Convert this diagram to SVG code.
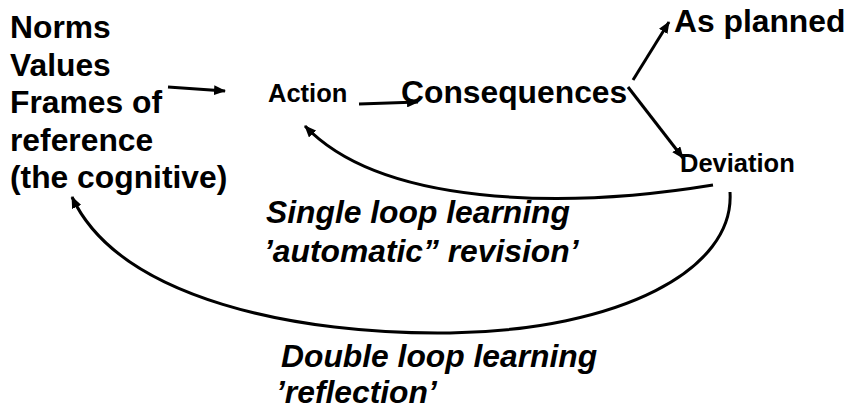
<svg xmlns="http://www.w3.org/2000/svg" width="845" height="410" viewBox="0 0 845 410">
<style>
.t{font-family:"Liberation Sans",Arial,sans-serif;font-weight:bold;fill:#000}
.big{font-size:31.8px}
.small{font-size:25.5px}
.it{font-style:italic}
.c{fill:none;stroke:#000;stroke-width:3}
</style>
<defs>
<marker id="ah" markerUnits="userSpaceOnUse" markerWidth="12" markerHeight="10" refX="11" refY="5" orient="auto">
<path d="M0,0 L12,5 L0,10 z" fill="#000"/>
</marker>
</defs>
<rect width="845" height="410" fill="#fff"/>
<g id="norms">
<text class="t big" x="10" y="38">Norms</text>
<text class="t big" x="10" y="75.5">Values</text>
<text class="t big" x="10" y="113">Frames of</text>
<text class="t big" x="10" y="150.5">reference</text>
<text class="t big" x="10" y="188">(the cognitive)</text>
</g>
<g id="action"><text class="t small" x="268" y="102">Action</text></g>
<g id="consequences"><text class="t big" x="401" y="103">Consequences</text></g>
<g id="asplanned"><text class="t big" x="674" y="32">As planned</text></g>
<g id="deviation"><text class="t small" x="680" y="172">Deviation</text></g>
<g id="single-label">
<text class="t big it" x="266" y="223">Single loop learning</text>
<text class="t big it" x="264" y="262">’automatic” revision’</text>
</g>
<g id="double-label">
<text class="t big it" x="281" y="367">Double loop learning</text>
<text class="t big it" x="276" y="403">’reflection’</text>
</g>
<g id="connectors">
<line class="c" x1="168" y1="87" x2="225" y2="91" marker-end="url(#ah)"/>
<line class="c" x1="359" y1="104" x2="418" y2="102" marker-end="url(#ah)"/>
<line class="c" x1="633" y1="80" x2="669" y2="22" marker-end="url(#ah)"/>
<line class="c" x1="628" y1="87" x2="683" y2="158" marker-end="url(#ah)"/>
<path class="c" d="M713,185 C560,210 380,205 305,126" marker-end="url(#ah)"/>
<path class="c" d="M730,192 C735,270 620,330 450,333 C300,335 120,300 72,197" marker-end="url(#ah)"/>
</g>
</svg>
